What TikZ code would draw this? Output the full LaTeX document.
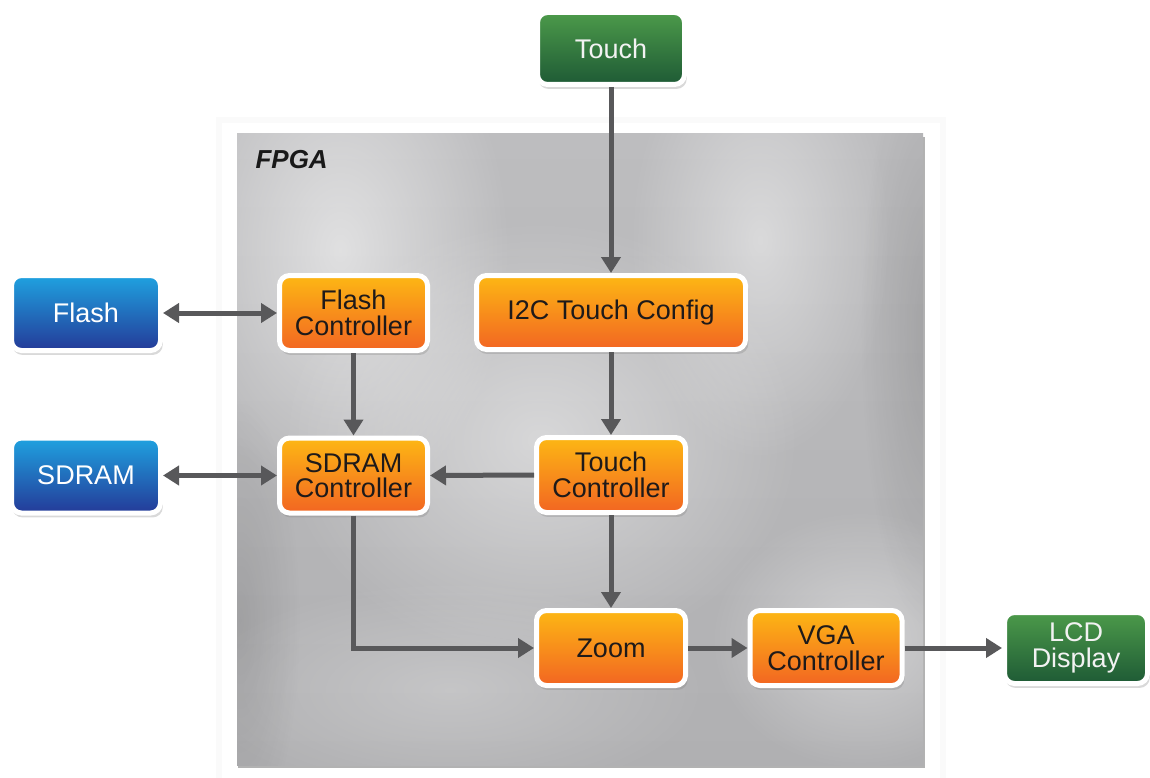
\documentclass[tikz,border=0pt]{standalone}
\usepackage{fontspec}
\setmainfont{Liberation Sans}
\usetikzlibrary{arrows.meta,shadows,fadings,calc}
\definecolor{arrc}{HTML}{58585A}
\definecolor{orT}{HTML}{FDB714}
\definecolor{orM}{HTML}{F8961D}
\definecolor{orB}{HTML}{F26522}
\definecolor{blT}{HTML}{1FA2E0}
\definecolor{blM}{HTML}{1668BE}
\definecolor{blB}{HTML}{243A98}
\definecolor{grT}{HTML}{4C9A4A}
\definecolor{grM}{HTML}{2F7440}
\definecolor{grB}{HTML}{1E5A35}
\definecolor{txtd}{HTML}{1E1A1A}
\definecolor{bgT}{HTML}{BDBDBF}
\definecolor{bgB}{HTML}{B0B0B2}
\tikzfading[name=softc, inner color=transparent!0, outer color=transparent!100]
\tikzset{
  blk/.style={draw=white, line width=5pt, rounded corners=10pt, inner sep=0pt,
    align=center, font=\fontsize{27}{25.5}\selectfont,
    minimum width=149pt, minimum height=75pt,
    drop shadow={opacity=0.3, shadow xshift=1.5pt, shadow yshift=-4pt, shadow scale=1.01}},
  obox/.style={blk, top color=orT, middle color=orM, bottom color=orB, text=txtd},
  bbox/.style={blk, top color=blT, middle color=blM, bottom color=blB, text=white},
  gbox/.style={blk, top color=grT, middle color=grM, bottom color=grB, text=white!95!black},
  arr/.style={draw=arrc, line width=5pt, -{Triangle[length=16pt,width=19pt]}},
  arrb/.style={draw=arrc, line width=5pt, {Triangle[length=16pt,width=19pt]}-{Triangle[length=16pt,width=19pt]}},
  hl/.style={white, path fading=softc},
  dk/.style={black, path fading=softc}
}
\begin{document}
\begin{tikzpicture}[x=1pt,y=-1pt]
\useasboundingbox (0,0) rectangle (1150,778);
% outer FPGA frame
\fill[black!4] (218,119) rectangle (944,790);
\fill[black!2] (216,117) rectangle (946,790);
\fill[white] (222,123) rectangle (940,790);
% grey panel
\fill[black!30] (238,137) rectangle (925,768);
\shade[top color=bgT, bottom color=bgB] (237,134) rectangle (923,765);
\begin{scope}
  \clip (237,134) rectangle (923,765);
  \fill[hl, opacity=0.55] (340,250) ellipse (170 and 260);
  \fill[hl, opacity=0.45] (760,240) ellipse (130 and 220);
  \fill[hl, opacity=0.45] (540,440) ellipse (260 and 220);
  \fill[hl, opacity=0.40] (860,640) ellipse (150 and 130);
  \fill[hl, opacity=0.25] (450,690) ellipse (260 and 110);
  \fill[dk, opacity=0.12] (930,330) ellipse (70 and 300);
  \fill[dk, opacity=0.10] (240,620) ellipse (60 and 220);
\end{scope}
\node[anchor=base west, font=\fontsize{26}{26}\selectfont\bfseries\itshape, text=black!90] (fpga) at (252,168) {FPGA};
% blocks
\node[gbox, minimum width=147pt, minimum height=72pt] (touch) at (611,48.5) {Touch};
\node[bbox] (flash) at (86,313) {Flash};
\node[bbox] (sdram) at (86,475.5) {SDRAM};
\node[obox, minimum width=148pt] (fctrl) at (353.5,313) {Flash\\Controller};
\node[obox, minimum width=148pt] (sctrl) at (353.5,475.5) {SDRAM\\Controller};
\node[obox, minimum width=269pt, minimum height=74pt] (i2c) at (611,312.5) {I2C Touch Config};
\node[obox] (tctrl) at (611,475) {Touch\\Controller};
\node[obox] (zoom) at (611,648) {Zoom};
\node[obox, minimum width=152pt] (vga) at (826,648) {VGA\\Controller};
\node[gbox, minimum width=143pt, minimum height=71pt] (lcd) at (1076,648) {LCD\\Display};
% connectors
\draw[arr] (touch.south) -- (i2c.north);
\draw[arrb] (flash.east) -- (fctrl.west);
\draw[arr] (fctrl.south) -- (sctrl.north);
\draw[arrb] (sdram.east) -- (sctrl.west);
\draw[arr] (i2c.south) -- (tctrl.north);
\draw[arr] (tctrl.west) -- (sctrl.east);
\draw[arr] (tctrl.south) -- (zoom.north);
\draw[arr] (sctrl.south) |- (zoom.west);
\draw[arr] (zoom.east) -- (vga.west);
\draw[arr] (vga.east) -- (lcd.west);
\end{tikzpicture}
\end{document}
